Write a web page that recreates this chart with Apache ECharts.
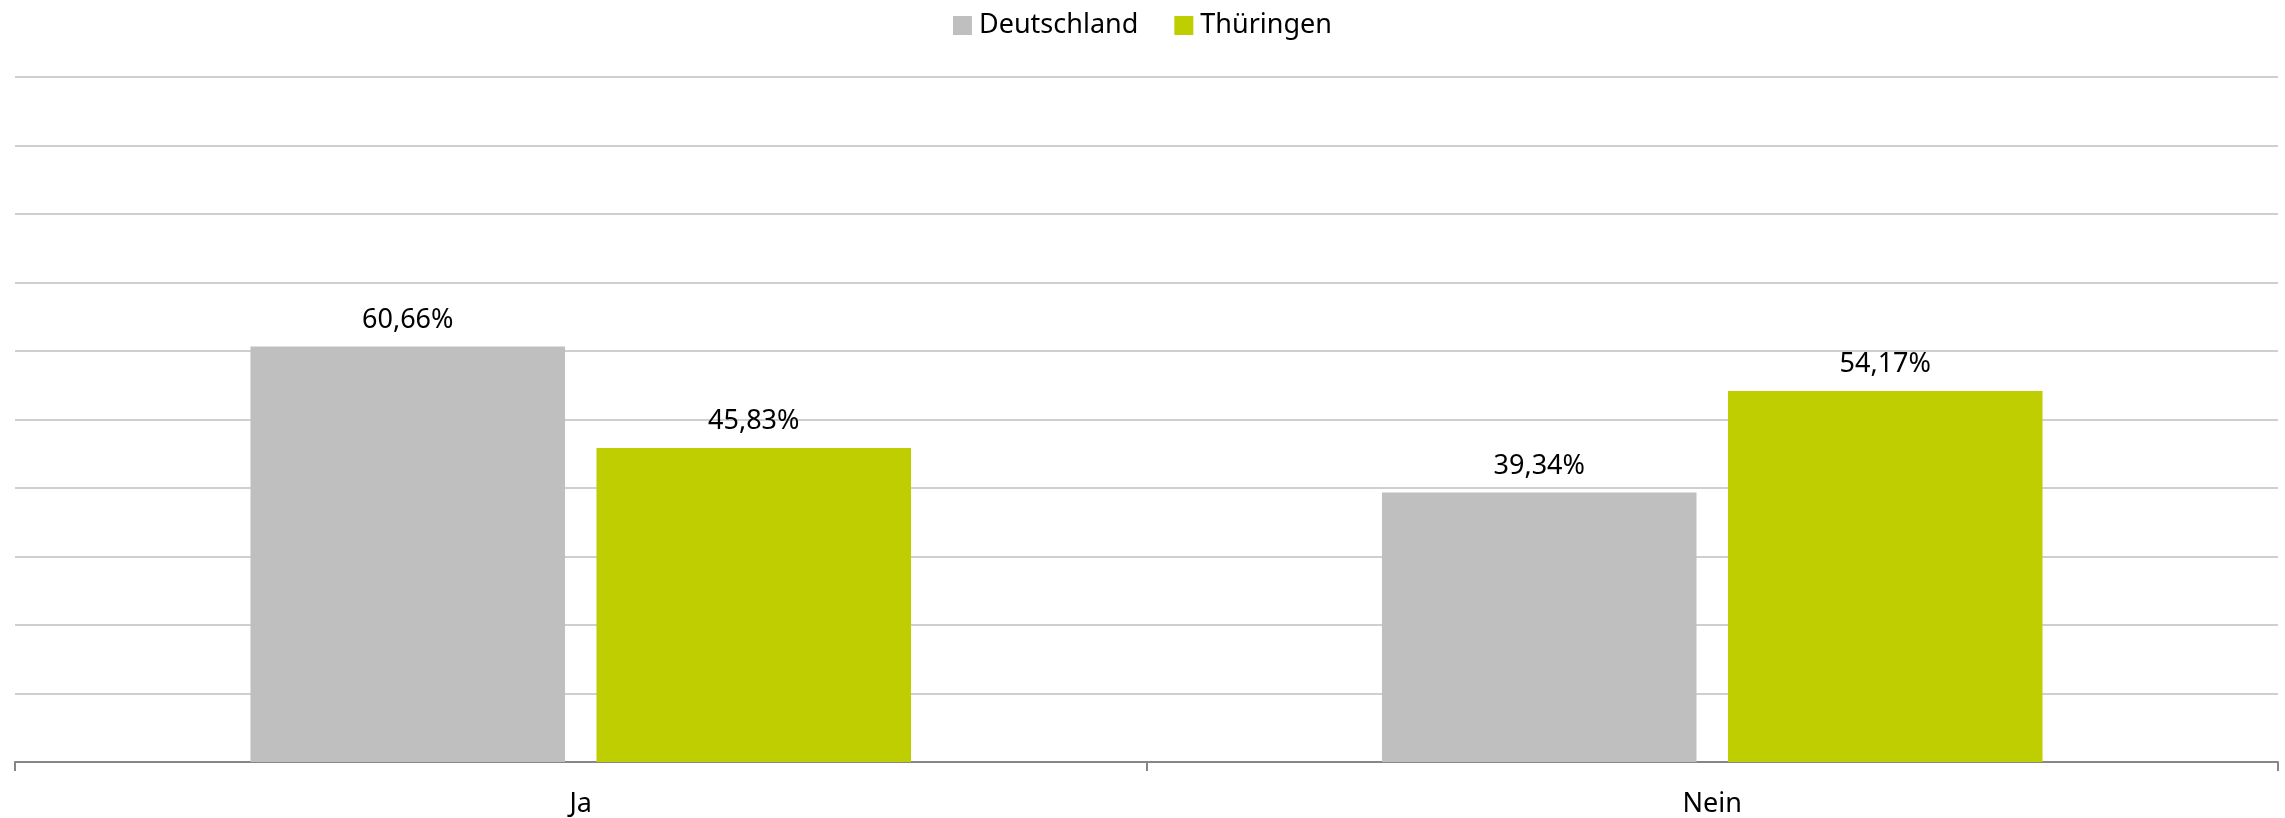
<!DOCTYPE html>
<html>
<head>
<meta charset="utf-8">
<script src="https://cdn.jsdelivr.net/npm/echarts@6/dist/echarts.min.js"></script>
<style>
	html, body { margin: 0; padding: 0; background: #fff; }
	#container { width: 2285px; height: 818px; }
</style>
</head>
<body>
<div id="container"></div>
<script>
var categories = [ 'Ja', 'Nein' ];
var seriesNames = [ 'Deutschland', 'Thüringen' ];
var deutschland = [ 60.66, 39.34 ];
var thueringen = [ 45.83, 54.17 ];
var colors = [ '#BFBFBF', '#BFCE00' ];
var fontName = '"Noto Sans", "Open Sans", sans-serif';

function pctLabel( p ) {
	return p.value.toFixed( 2 ).replace( '.', ',' ) + '%';
}

var dom = document.getElementById( 'container' );
var myChart = echarts.init( dom );

function makeSeries( name, data, color ) {
	return {
		name: name,
		type: 'bar',
		data: data,
		barWidth: '27.8%',
		barGap: '10%',
		itemStyle: { color: color },
		label: {
			show: true,
			position: 'top',
			distance: 13,
			color: '#000',
			fontSize: 27,
			fontFamily: fontName,
			formatter: pctLabel
		}
	};
}

var option = {
	animation: false,
	backgroundColor: '#fff',
	textStyle: { fontFamily: fontName },
	legend: {
		data: seriesNames,
		top: 7,
		left: 'center',
		itemWidth: 19,
		itemHeight: 19,
		itemGap: 36,
		icon: 'rect',
		textStyle: { fontSize: 27, color: '#000', fontFamily: fontName, padding: [ 0, 0, 0, 2 ] }
	},
	grid: {
		left: 15,
		right: 7,
		top: 77,
		bottom: 56
	},
	xAxis: {
		type: 'category',
		data: categories,
		axisLine: { lineStyle: { color: '#868686', width: 2 } },
		axisTick: { show: true, length: 9, lineStyle: { color: '#868686', width: 2 } },
		axisLabel: { color: '#000', fontSize: 27, margin: 29, fontFamily: fontName }
	},
	yAxis: {
		type: 'value',
		min: 0,
		max: 100,
		interval: 10,
		axisLine: { show: false },
		axisTick: { show: false },
		axisLabel: { show: false },
		splitLine: { lineStyle: { color: '#BFBFBF', width: 1.5 } }
	},
	series: [
		makeSeries( seriesNames[0], deutschland, colors[0] ),
		makeSeries( seriesNames[1], thueringen, colors[1] )
	]
};

myChart.setOption( option, true );
</script>
</body>
</html>
